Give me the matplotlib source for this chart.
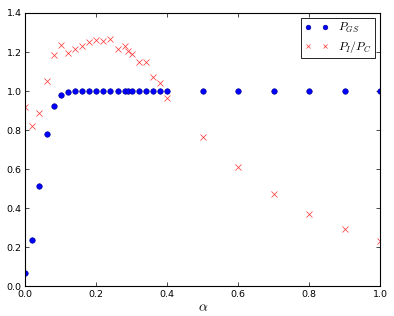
import matplotlib as mpl
import matplotlib.pyplot as plt
import numpy as np

mpl.use("Agg")
plt.rcParams["mathtext.fontset"] = "cm"

# alpha values sampled
alpha = [0.0, 0.02, 0.04, 0.06, 0.08, 0.10, 0.12, 0.14, 0.16, 0.18, 0.20,
         0.22, 0.24, 0.26, 0.28, 0.29, 0.30, 0.32, 0.34, 0.36, 0.38, 0.40,
         0.5, 0.6, 0.7, 0.8, 0.9, 1.0]

p_gs = [0.07, 0.235, 0.515, 0.78, 0.925, 0.98, 0.995, 0.999, 1.0, 1.0, 1.0,
        1.0, 1.0, 1.0, 1.0, 1.0, 1.0, 1.0, 1.0, 1.0, 1.0, 1.0,
        1.0, 1.0, 1.0, 1.0, 1.0, 1.0]

p_ratio = [0.918, 0.819, 0.89, 1.05, 1.183, 1.237, 1.197, 1.217, 1.231, 1.25,
           1.263, 1.258, 1.265, 1.215, 1.232, 1.207, 1.188, 1.147, 1.147,
           1.074, 1.04, 0.962, 0.765, 0.609, 0.473, 0.369, 0.291, 0.231]

fig = plt.figure(figsize=(3.94, 3.16), dpi=100)
ax = fig.add_subplot(111)
fig.subplots_adjust(left=0.064, right=0.965, top=0.959, bottom=0.094)

ax.plot(alpha, p_gs, "o", color="blue", markeredgecolor="#000080",
        markeredgewidth=0.4, markersize=4, label=r"$P_{GS}$")
ax.plot(alpha, p_ratio, "x", color="#ff3030", markeredgewidth=0.5,
        markersize=4, label=r"$P_I/P_C$")

ax.set_xlim(0, 1)
ax.set_ylim(0, 1.4)
ax.set_xticks(np.arange(0, 1.01, 0.2))
ax.set_yticks(np.arange(0, 1.41, 0.2))
ax.tick_params(direction="in", top=True, right=True, labelsize=6.8,
               length=3, width=0.5, pad=2.5)
for s in ax.spines.values():
    s.set_linewidth(0.8)

ax.set_xlabel(r"$\alpha$", fontsize=10, labelpad=1)

leg = ax.legend(loc="upper right", numpoints=2, fontsize=8.5,
                fancybox=False, framealpha=1, borderaxespad=0.4,
                handlelength=2.05, handletextpad=0.8, borderpad=0.3,
                labelspacing=0.3, markerscale=0.85)
leg.get_frame().set_edgecolor("black")
leg.get_frame().set_linewidth(0.6)

plt.savefig("out.png", dpi=100)
